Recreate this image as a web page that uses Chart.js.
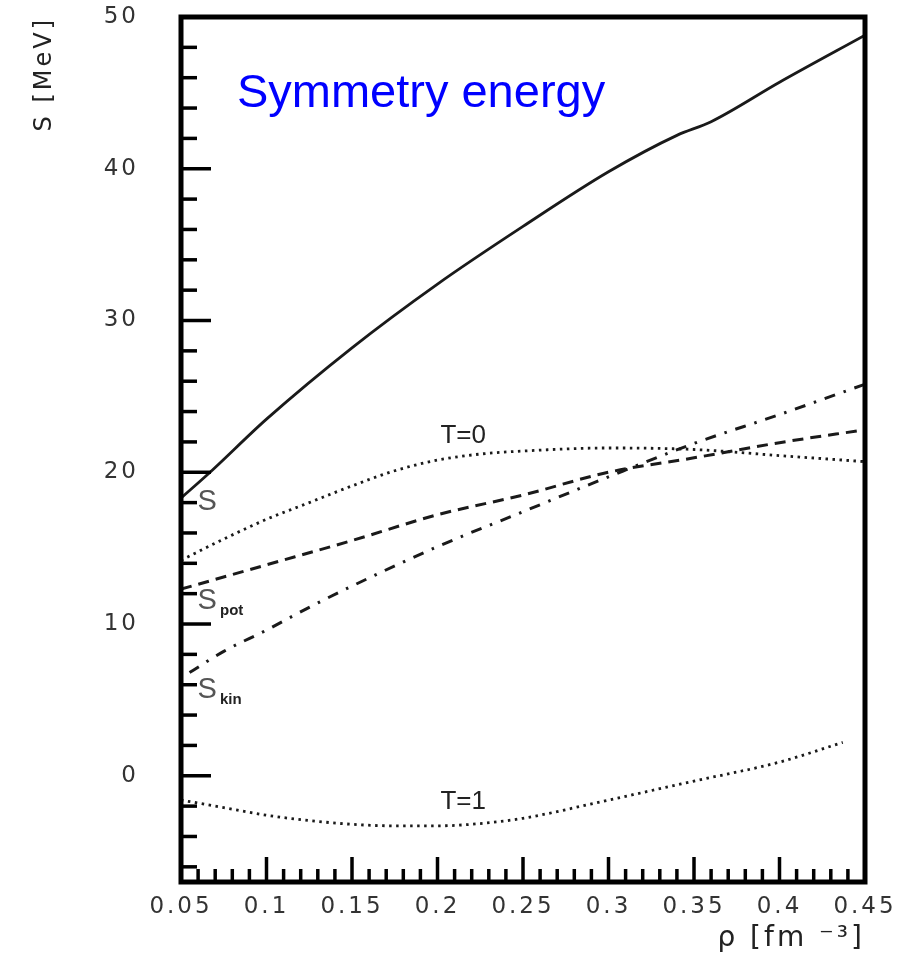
<!DOCTYPE html>
<html lang="en">
<head>
  <meta charset="UTF-8" />
  <title>Symmetry energy</title>
  <script src="https://cdn.jsdelivr.net/npm/chart.js"></script>
  <style>
    body { margin: 0; background: #fff; }
  </style>
</head>
<body>
  <canvas id="grafico" width="913" height="958"></canvas>

  <script>
    // density axis values (fm^-3) and energies (MeV)
    const rhoS = [0.05, 0.067, 0.1, 0.15, 0.2, 0.25, 0.3, 0.34, 0.36, 0.4, 0.45];
    const valS = [18.3, 20.0, 23.5, 28.2, 32.4, 36.2, 39.8, 42.2, 43.1, 45.7, 48.8];

    const rhoT0 = [0.05, 0.075, 0.1, 0.125, 0.15, 0.175, 0.2, 0.225, 0.25, 0.3, 0.35, 0.4, 0.45];
    const valT0 = [14.2, 15.6, 16.9, 18.0, 19.1, 20.1, 20.8, 21.2, 21.4, 21.6, 21.5, 21.1, 20.7];

    const rhoPot = [0.05, 0.1, 0.15, 0.2, 0.25, 0.3, 0.35, 0.4, 0.45];
    const valPot = [12.3, 13.9, 15.5, 17.2, 18.5, 20.0, 20.95, 21.95, 22.8];

    const rhoKin = [0.055, 0.075, 0.1, 0.125, 0.15, 0.2, 0.25, 0.3, 0.35, 0.4, 0.45];
    const valKin = [6.8, 8.2, 9.6, 11.1, 12.5, 15.1, 17.4, 19.7, 21.9, 23.8, 25.8];

    const rhoT1 = [0.05, 0.075, 0.1, 0.125, 0.15, 0.175, 0.2, 0.225, 0.25, 0.3, 0.35, 0.4, 0.437];
    const valT1 = [-1.6, -2.1, -2.6, -2.95, -3.2, -3.3, -3.3, -3.15, -2.8, -1.6, -0.35, 0.9, 2.2];

    const xTicks = [0.05, 0.1, 0.15, 0.2, 0.25, 0.3, 0.35, 0.4, 0.45];
    const yTicks = [0, 10, 20, 30, 40, 50];

    function puntos(xs, ys) {
      return xs.map((x, i) => ({ x: x, y: ys[i] }));
    }

    function serie(xs, ys, dash, width) {
      return {
        data: puntos(xs, ys),
        borderColor: '#1a1a1a',
        borderWidth: width,
        borderDash: dash,
        pointRadius: 0,
        cubicInterpolationMode: 'monotone',
        fill: false
      };
    }

    // wide spaced axis text like the original plot
    const espaciado = {
      id: 'espaciado',
      beforeDraw(chart) { chart.ctx.letterSpacing = '3px'; }
    };

    // frame, inward ticks and curve labels
    const marco = {
      id: 'marco',
      afterDraw(chart) {
        const ctx = chart.ctx;
        const a = chart.chartArea;
        const sx = chart.scales.x, sy = chart.scales.y;
        ctx.save();
        ctx.letterSpacing = '0px';
        ctx.strokeStyle = '#000';
        ctx.lineWidth = 3.5;
        for (let v = -6; v <= 48; v += 2) {
          const py = sy.getPixelForValue(v);
          const len = (v % 10 === 0) ? 30 : 16;
          ctx.beginPath();
          ctx.moveTo(a.left, py);
          ctx.lineTo(a.left + len, py);
          ctx.stroke();
        }
        for (let k = 6; k <= 44; k++) {
          const px = sx.getPixelForValue(k / 100);
          const len = (k % 5 === 0) ? 25 : 13;
          ctx.beginPath();
          ctx.moveTo(px, a.bottom);
          ctx.lineTo(px, a.bottom - len);
          ctx.stroke();
        }
        ctx.lineWidth = 5;
        ctx.strokeRect(a.left, a.top, a.right - a.left, a.bottom - a.top);

        const P = (x, y) => [sx.getPixelForValue(x), sy.getPixelForValue(y)];

        ctx.fillStyle = '#0000ff';
        ctx.font = '47px "Liberation Sans", Arial, sans-serif';
        ctx.textBaseline = 'alphabetic';
        ctx.textAlign = 'left';
        let p = P(0.0827, 44.06);
        ctx.fillText('Symmetry energy', p[0], p[1]);

        ctx.fillStyle = '#222';
        ctx.font = '26px "Liberation Sans", Arial, sans-serif';
        ctx.textAlign = 'center';
        ctx.textBaseline = 'middle';
        p = P(0.215, 22.4);
        ctx.fillText('T=0', p[0], p[1]);
        p = P(0.215, -1.7);
        ctx.fillText('T=1', p[0], p[1]);

        ctx.fillStyle = '#555';
        ctx.textAlign = 'left';
        ctx.textBaseline = 'alphabetic';
        ctx.font = '29px "Liberation Sans", Arial, sans-serif';
        p = P(0.0596, 17.5);
        ctx.fillText('S', p[0], p[1]);
        p = P(0.0596, 10.99);
        ctx.fillText('S', p[0], p[1]);
        p = P(0.0596, 5.1);
        ctx.fillText('S', p[0], p[1]);
        ctx.fillStyle = '#222';
        ctx.font = 'bold 15px "Liberation Sans", Arial, sans-serif';
        p = P(0.0728, 10.6);
        ctx.fillText('pot', p[0], p[1]);
        p = P(0.0728, 4.7);
        ctx.fillText('kin', p[0], p[1]);
        ctx.restore();
      }
    };

    const fuenteTicks = { family: '"DejaVu Sans", sans-serif', size: 23 };

    new Chart(document.getElementById('grafico').getContext('2d'), {
      type: 'line',
      data: {
        datasets: [
          serie(rhoS, valS, [], 2.8),
          serie(rhoT0, valT0, [2.5, 4.5], 2.8),
          serie(rhoPot, valPot, [11, 7], 3),
          serie(rhoKin, valKin, [11, 9, 2.5, 9], 3),
          serie(rhoT1, valT1, [2.5, 4.5], 2.8)
        ]
      },
      options: {
        responsive: false,
        animation: false,
        events: [],
        layout: { padding: { top: 17, right: 48, left: 0, bottom: 0 } },
        plugins: { legend: { display: false }, tooltip: { enabled: false } },
        scales: {
          x: {
            type: 'linear',
            min: 0.05,
            max: 0.45,
            grid: { display: false, drawTicks: false },
            border: { display: false },
            afterBuildTicks: s => { s.ticks = xTicks.map(v => ({ value: v })); },
            afterFit: s => { s.height = 76; },
            ticks: {
              color: '#333',
              font: fuenteTicks,
              padding: 11,
              maxRotation: 0,
              autoSkip: false,
              callback: v => String(+Number(v).toFixed(2))
            },
            title: {
              display: true,
              text: 'ρ [fm ⁻³]',
              align: 'end',
              color: '#222',
              font: { family: '"DejaVu Sans", sans-serif', size: 28 },
              padding: { top: 0, bottom: 2 }
            }
          },
          y: {
            type: 'linear',
            min: -7,
            max: 50,
            grid: { display: false, drawTicks: false },
            border: { display: false },
            afterBuildTicks: s => { s.ticks = yTicks.map(v => ({ value: v })); },
            afterFit: s => { s.width = 181; s.paddingTop = 12; s.paddingBottom = 12; },
            ticks: {
              color: '#333',
              font: fuenteTicks,
              padding: 42,
              autoSkip: false
            },
            title: {
              display: true,
              text: 'S [MeV]',
              align: 'end',
              color: '#222',
              font: { family: '"DejaVu Sans", sans-serif', size: 24 },
              padding: { top: 30, bottom: 0 }
            }
          }
        }
      },
      plugins: [espaciado, marco]
    });
  </script>
</body>
</html>
